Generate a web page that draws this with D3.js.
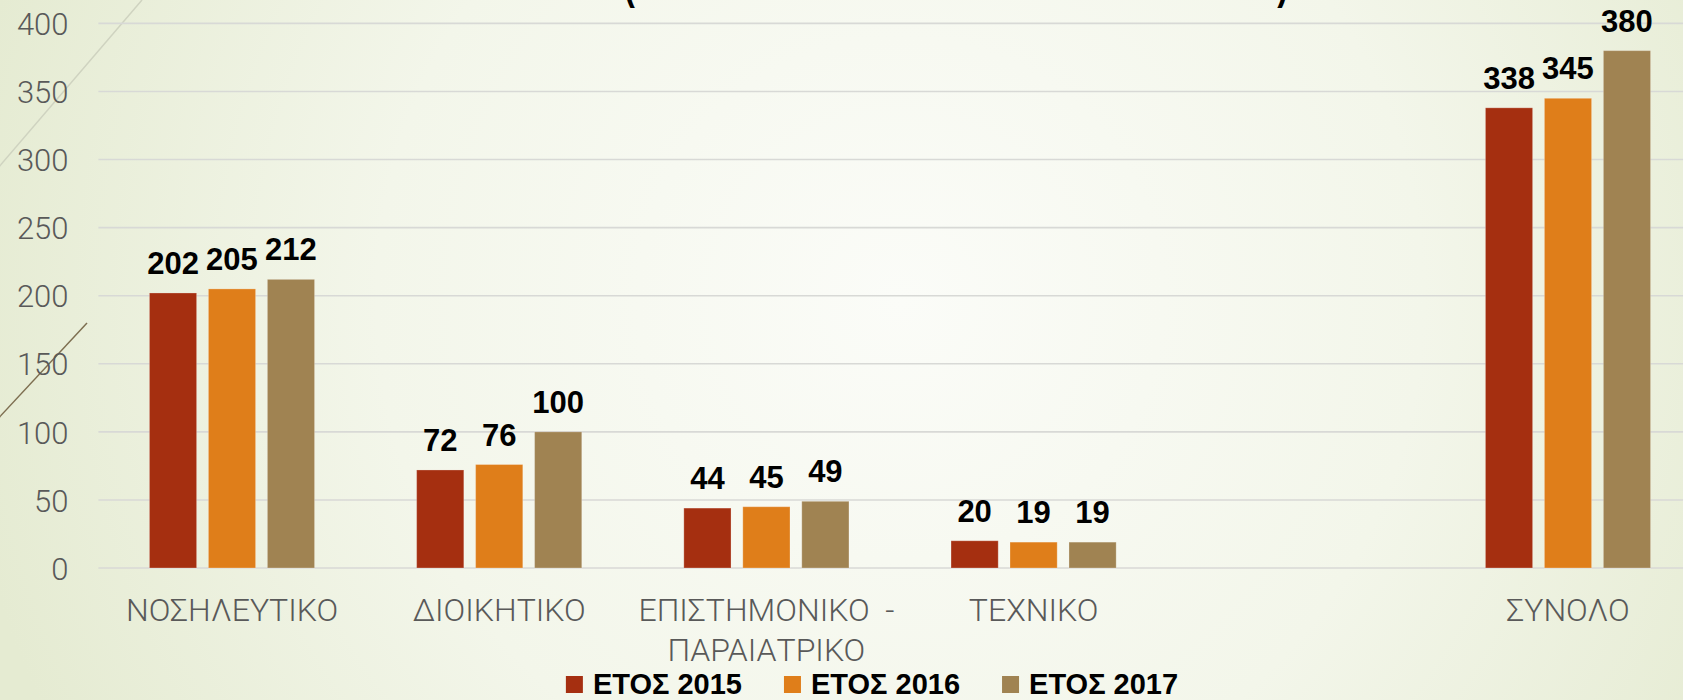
<!DOCTYPE html>
<html><head><meta charset="utf-8">
<script src="https://cdn.jsdelivr.net/npm/d3@7"></script>
<style>body{margin:0;overflow:hidden;background:#f3f5ec} svg{display:block}</style>
</head><body>
<script>
// ---- data ----
const categories = ["ΝΟΣΗΛΕΥΤΙΚΟ", "ΔΙΟΙΚΗΤΙΚΟ", "ΕΠΙΣΤΗΜΟΝΙΚΟ - ΠΑΡΑΙΑΤΡΙΚΟ", "ΤΕΧΝΙΚΟ", "", "ΣΥΝΟΛΟ"];
const seriesNames = ["ΕΤΟΣ 2015", "ΕΤΟΣ 2016", "ΕΤΟΣ 2017"];
const values2015 = [202, 72, 44, 20, null, 338];
const values2016 = [205, 76, 45, 19, null, 345];
const values2017 = [212, 100, 49, 19, null, 380];
const yTicks = [0, 50, 100, 150, 200, 250, 300, 350, 400];
const titleText = "(ΑΡΙΘΜΟΣ ΥΠΑΛΛΗΛΩΝ ΑΝΑ ΚΑΤΗΓΟΡΙΑ)";

const seriesValues = [values2015, values2016, values2017];
const colors = ["#a52f10", "#df7e1a", "#a08352"];

const W = 1683, H = 700;
const svg = d3.select("body").append("svg").attr("width", W).attr("height", H);

// background
const defs = svg.append("defs");
const rg = defs.append("radialGradient").attr("id", "bg")
  .attr("gradientUnits", "userSpaceOnUse")
  .attr("cx", 900).attr("cy", 300).attr("r", 950);
rg.append("stop").attr("offset", 0).attr("stop-color", "#fbfcf8");
rg.append("stop").attr("offset", 0.55).attr("stop-color", "#f3f6ea");
rg.append("stop").attr("offset", 1).attr("stop-color", "#e5ebd2");
svg.append("rect").attr("width", W).attr("height", H).attr("fill", "url(#bg)");

// decorative wisp lines
svg.append("line").attr("x1", -20).attr("y1", 189).attr("x2", 142).attr("y2", 0)
  .attr("stroke", "#cfd3c0").attr("stroke-width", 1.5);
svg.append("line").attr("x1", -20).attr("y1", 438).attr("x2", 87).attr("y2", 323)
  .attr("stroke", "#7d6e50").attr("stroke-width", 1.5);

// scales
const x0 = d3.scaleBand().domain(categories.map((c, i) => i))
  .range([98.4, 1701.6]).paddingInner(0.382).paddingOuter(0.191);
const x1 = d3.scaleBand().domain(d3.range(seriesNames.length))
  .range([0, x0.bandwidth()]).paddingInner(0.2).paddingOuter(0);
const y = d3.scaleLinear().domain([0, 400]).range([568, 23.4]);

// gridlines
svg.append("g").selectAll("line").data(yTicks).join("line")
  .attr("x1", 98.4).attr("x2", W)
  .attr("y1", d => y(d)).attr("y2", d => y(d))
  .attr("stroke", "#d8d9d6").attr("stroke-width", 1.6);

// y axis labels
const yAxis = d3.axisLeft(y).tickValues(yTicks).tickSize(0).tickPadding(0);
const ya = svg.append("g").attr("transform", "translate(68.5,0)").call(yAxis);
ya.select(".domain").remove();
ya.selectAll("text").attr("font-family", "Roboto, 'Noto Sans', sans-serif")
  .attr("font-weight", 300).attr("font-size", 31).attr("fill", "#595959").attr("dy", "0.36em");

// bars
const groups = svg.append("g").selectAll("g").data(categories).join("g")
  .attr("transform", (d, i) => `translate(${x0(i)},0)`);
groups.selectAll("rect")
  .data((d, i) => seriesValues.map((vals, s) => ({s, v: vals[i]})).filter(o => o.v != null))
  .join("rect")
  .attr("x", o => x1(o.s)).attr("width", x1.bandwidth())
  .attr("y", o => y(o.v)).attr("height", o => y(0) - y(o.v))
  .attr("fill", o => colors[o.s])
  .attr("stroke", "rgba(255,255,255,0.25)").attr("stroke-width", 1);
groups.selectAll("text.val")
  .data((d, i) => seriesValues.map((vals, s) => ({s, v: vals[i]})).filter(o => o.v != null))
  .join("text").attr("class", "val")
  .attr("x", o => x1(o.s) + x1.bandwidth() / 2).attr("y", o => y(o.v) - 19)
  .attr("text-anchor", "middle")
  .attr("font-family", "'Liberation Sans', Arial, sans-serif").attr("font-weight", 700)
  .attr("font-size", 31).attr("fill", "#000")
  .text(o => o.v);

// category labels
const catG = svg.append("g");
categories.forEach((c, i) => {
  if (!c) return;
  const parts = c.split(" - ");
  const lines = parts.length > 1 ? [parts[0] + "\u00a0\u00a0-", parts[1]] : [c];
  const t = catG.append("text")
    .attr("text-anchor", "middle")
    .attr("font-family", "Roboto, 'Noto Sans', sans-serif").attr("font-weight", 300)
    .attr("font-size", 32).attr("fill", "#595959");
  lines.forEach((l, k) => {
    t.append("tspan").attr("x", x0(i) + x0.bandwidth() / 2).attr("y", 621 + k * 40).text(l);
  });
});

// title (mostly above the visible area)
svg.append("text").attr("x", 624).attr("y", -1)
  .attr("textLength", 664).attr("lengthAdjust", "spacingAndGlyphs")
  .attr("font-family", "'Liberation Sans', Arial, sans-serif").attr("font-weight", 700)
  .attr("font-size", 44).attr("fill", "#000").text(titleText);

// legend
const lg = svg.append("g");
let cx = 0;
const items = [];
seriesNames.forEach((name, s) => {
  const g = lg.append("g");
  g.append("rect").attr("x", cx).attr("y", -17).attr("width", 17).attr("height", 17).attr("fill", colors[s]);
  const t = g.append("text").attr("x", cx + 27).attr("y", 0)
    .attr("font-family", "'Liberation Sans', Arial, sans-serif").attr("font-weight", 700)
    .attr("font-size", 29).attr("fill", "#000").text(name);
  const w = t.node().getComputedTextLength();
  cx += 27 + w + 42;
});
const totalW = cx - 42;
lg.attr("transform", `translate(${872 - totalW / 2},${694})`);
lg.selectAll("rect").attr("transform", "translate(0,-1)");
</script>
</body></html>
